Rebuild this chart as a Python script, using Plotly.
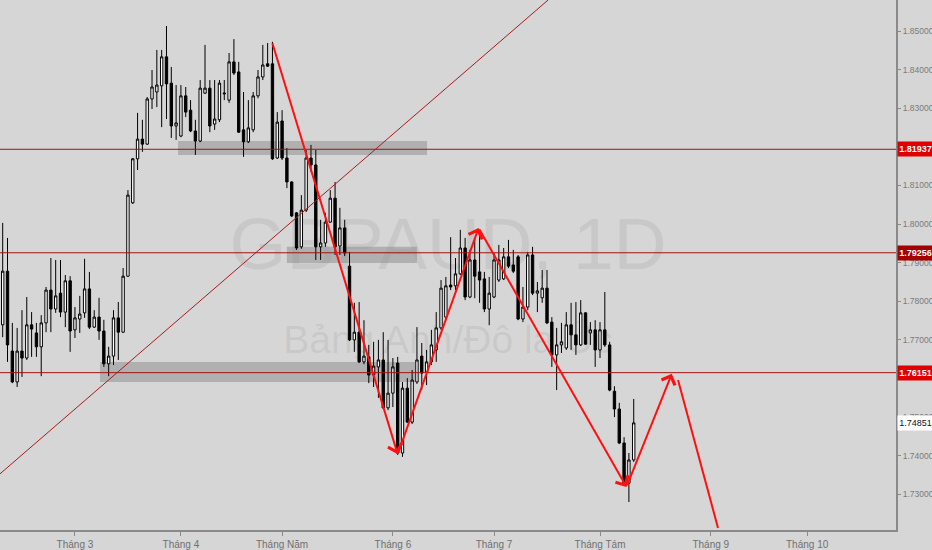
## GBPAUD 1D // candles with drawn levels and zigzag
import plotly.graph_objects as go

# daily candles (bar 0 = mid February)
opens = [
    1.7739, 1.7878, 1.7671, 1.7591, 1.7671, 1.7653, 1.7739, 1.7718, 1.7682, 1.7744,
    1.7829, 1.7780, 1.7821, 1.7772, 1.7853, 1.7726, 1.7754, 1.7770, 1.7832, 1.7733,
    1.7759, 1.7723, 1.7638, 1.7658, 1.7757, 1.7720, 1.7865, 1.8055, 1.8169, 1.8220,
    1.8207, 1.8324, 1.8342, 1.8358, 1.8433, 1.8365, 1.8254, 1.8228, 1.8332, 1.8295,
    1.8241, 1.8215, 1.8339, 1.8352, 1.8259, 1.8270, 1.8337, 1.8321, 1.8420, 1.8394,
    1.8244, 1.8213, 1.8244, 1.8332, 1.8381, 1.8415, 1.8415, 1.8171, 1.8267, 1.8171,
    1.8109, 1.8029, 1.7941, 1.8036, 1.8171, 1.8153, 1.7941, 1.7951, 1.8005, 1.8067,
    1.7943, 1.7990, 1.7891, 1.7700, 1.7720, 1.7643, 1.7656, 1.7609, 1.7630, 1.7648,
    1.7524, 1.7562, 1.7640, 1.7407, 1.7575, 1.7487, 1.7591, 1.7658, 1.7617, 1.7643,
    1.7674, 1.7731, 1.7759, 1.7842, 1.7840, 1.7871, 1.7938, 1.7811, 1.7907, 1.7876,
    1.7858, 1.7780, 1.7811, 1.7855, 1.7858, 1.7915, 1.7894, 1.7915, 1.7754, 1.7785,
    1.7920, 1.7821, 1.7809, 1.7834, 1.7746, 1.7661, 1.7687, 1.7679, 1.7739, 1.7713,
    1.7687, 1.7770, 1.7718, 1.7726, 1.7674, 1.7726, 1.7687, 1.7567, 1.7521, 1.7433,
    1.7329, 1.7389,
]
highs = [
    1.8003, 1.7964, 1.7744, 1.7731, 1.7777, 1.7811, 1.7772, 1.7744, 1.7764, 1.7837,
    1.7912, 1.7907, 1.7907, 1.7868, 1.7865, 1.7785, 1.7814, 1.7910, 1.7876, 1.7777,
    1.7809, 1.7752, 1.7682, 1.7777, 1.7798, 1.7886, 1.8088, 1.8171, 1.8288, 1.8270,
    1.8329, 1.8399, 1.8451, 1.8451, 1.8513, 1.8407, 1.8360, 1.8360, 1.8355, 1.8321,
    1.8270, 1.8373, 1.8464, 1.8373, 1.8373, 1.8373, 1.8373, 1.8443, 1.8479, 1.8420,
    1.8342, 1.8321, 1.8342, 1.8399, 1.8464, 1.8469, 1.8472, 1.8290, 1.8295, 1.8197,
    1.8111, 1.8031, 1.8075, 1.8192, 1.8205, 1.8192, 1.8011, 1.8029, 1.8088, 1.8109,
    1.8042, 1.8011, 1.7928, 1.7796, 1.7798, 1.7751, 1.7687, 1.7695, 1.7700, 1.7720,
    1.7700, 1.7653, 1.7656, 1.7591, 1.7601, 1.7622, 1.7733, 1.7692, 1.7674, 1.7726,
    1.7772, 1.7855, 1.7863, 1.7966, 1.7912, 1.7985, 1.7964, 1.7933, 1.7964, 1.7985,
    1.7876, 1.7863, 1.7925, 1.7946, 1.7938, 1.7959, 1.7933, 1.7920, 1.7837, 1.7928,
    1.7941, 1.7850, 1.7881, 1.7881, 1.7759, 1.7731, 1.7744, 1.7772, 1.7796, 1.7798,
    1.7803, 1.7772, 1.7746, 1.7751, 1.7746, 1.7824, 1.7695, 1.7580, 1.7537, 1.7448,
    1.7407, 1.7547,
]
lows = [
    1.7707, 1.7643, 1.7588, 1.7578, 1.7604, 1.7648, 1.7656, 1.7656, 1.7606, 1.7720,
    1.7720, 1.7770, 1.7759, 1.7733, 1.7669, 1.7705, 1.7718, 1.7757, 1.7728, 1.7731,
    1.7700, 1.7630, 1.7606, 1.7635, 1.7648, 1.7718, 1.7863, 1.8052, 1.8140, 1.8187,
    1.8205, 1.8298, 1.8303, 1.8251, 1.8272, 1.8223, 1.8218, 1.8225, 1.8277, 1.8238,
    1.8179, 1.8212, 1.8337, 1.8238, 1.8244, 1.8264, 1.8321, 1.8314, 1.8386, 1.8236,
    1.8174, 1.8210, 1.8238, 1.8326, 1.8373, 1.8407, 1.8166, 1.8169, 1.8166, 1.8093,
    1.8018, 1.7933, 1.7936, 1.8031, 1.8135, 1.7907, 1.7907, 1.7941, 1.8003, 1.7920,
    1.7920, 1.7917, 1.7697, 1.7669, 1.7640, 1.7637, 1.7588, 1.7578, 1.7550, 1.7521,
    1.7518, 1.7526, 1.7402, 1.7397, 1.7485, 1.7482, 1.7586, 1.7570, 1.7583, 1.7635,
    1.7643, 1.7726, 1.7751, 1.7829, 1.7829, 1.7868, 1.7803, 1.7808, 1.7808, 1.7796,
    1.7772, 1.7738, 1.7808, 1.7850, 1.7855, 1.7886, 1.7873, 1.7751, 1.7746, 1.7777,
    1.7816, 1.7772, 1.7796, 1.7741, 1.7630, 1.7570, 1.7666, 1.7674, 1.7674, 1.7661,
    1.7684, 1.7687, 1.7687, 1.7630, 1.7653, 1.7682, 1.7567, 1.7500, 1.7430, 1.7324,
    1.7280, 1.7384,
]
closes = [
    1.7878, 1.7687, 1.7591, 1.7671, 1.7653, 1.7739, 1.7728, 1.7682, 1.7744, 1.7829,
    1.7780, 1.7814, 1.7772, 1.7853, 1.7723, 1.7757, 1.7767, 1.7832, 1.7733, 1.7759,
    1.7723, 1.7638, 1.7658, 1.7757, 1.7720, 1.7865, 1.8075, 1.8169, 1.8220, 1.8207,
    1.8324, 1.8355, 1.8360, 1.8433, 1.8363, 1.8254, 1.8262, 1.8332, 1.8290, 1.8241,
    1.8215, 1.8352, 1.8352, 1.8254, 1.8272, 1.8365, 1.8339, 1.8420, 1.8391, 1.8238,
    1.8213, 1.8249, 1.8332, 1.8381, 1.8412, 1.8409, 1.8169, 1.8264, 1.8171, 1.8109,
    1.8021, 1.7938, 1.8036, 1.8171, 1.8153, 1.7941, 1.7951, 1.8005, 1.8067, 1.7941,
    1.7990, 1.7925, 1.7700, 1.7720, 1.7643, 1.7658, 1.7609, 1.7632, 1.7648, 1.7524,
    1.7562, 1.7630, 1.7407, 1.7575, 1.7487, 1.7596, 1.7648, 1.7614, 1.7643, 1.7687,
    1.7731, 1.7834, 1.7840, 1.7837, 1.7871, 1.7938, 1.7811, 1.7907, 1.7865, 1.7855,
    1.7780, 1.7821, 1.7907, 1.7907, 1.7915, 1.7891, 1.7878, 1.7754, 1.7785, 1.7920,
    1.7821, 1.7827, 1.7834, 1.7744, 1.7661, 1.7687, 1.7695, 1.7739, 1.7713, 1.7687,
    1.7770, 1.7689, 1.7726, 1.7674, 1.7726, 1.7687, 1.7570, 1.7521, 1.7433, 1.7329,
    1.7389, 1.74851,
]

month_ticks = [15, 37, 58, 81, 102, 124, 147, 167]
month_labels = ["Tháng 3", "Tháng 4", "Tháng Năm", "Tháng 6",
                "Tháng 7", "Tháng Tám", "Tháng 9", "Tháng 10"]
price_ticks = [1.73, 1.74, 1.75, 1.76, 1.77, 1.78, 1.79,
               1.80, 1.81, 1.82, 1.83, 1.84, 1.85]
# these two sit fully under the level labels on the axis
covered_ticks = [1.76, 1.82]

levels = [1.81937, 1.79256, 1.76151]
level_colors = ["#e00000", "#a30000", "#e00000"]
last_price = closes[-1]

# hand drawings (bar index, price)
zigzag_x = [55.9, 82.0, 98.8, 129.5, 138.9]
zigzag_y = [1.8472, 1.7404, 1.7990, 1.7319, 1.7612]
projection_x = [140.2, 148.5]
projection_y = [1.7596, 1.7213]
trend_x = [-0.56, 113.2]
trend_y = [1.7353, 1.8580]
zones = [
    (36.4, 88.1, 1.8179, 1.8215),
    (59.0, 86.0, 1.7899, 1.7941),
    (20.2, 85.6, 1.7591, 1.7643),
]

BG = "#d6d6d6"
AXIS = "#8a8a8a"
FONT = "Liberation Sans Narrow, Arial Narrow, Liberation Sans, Arial, sans-serif"
WATERMARK = "rgba(110,110,110,0.13)"


def _make_plot():
    bars = list(range(len(opens)))

    fig = go.Figure(
        go.Candlestick(
            x=bars,
            open=opens,
            high=highs,
            low=lows,
            close=closes,
            increasing=dict(line=dict(color="#000000", width=1), fillcolor="#ffffff"),
            decreasing=dict(line=dict(color="#000000", width=1), fillcolor="#000000"),
            whiskerwidth=0,
            hoverinfo="skip",
        )
    )

    shapes = []
    # watermark
    shapes.append(dict(
        type="rect", xref="paper", yref="paper", x0=0.25, x1=0.75, y0=0.45, y1=0.656,
        line=dict(width=0), fillcolor="rgba(0,0,0,0)", layer="below",
        label=dict(text="GBPAUD, 1D", textposition="middle center",
                   font=dict(family=FONT, size=73, color=WATERMARK)),
    ))
    shapes.append(dict(
        type="rect", xref="paper", yref="paper", x0=0.25, x1=0.75, y0=0.32, y1=0.415,
        line=dict(width=0), fillcolor="rgba(0,0,0,0)", layer="below",
        label=dict(text="Bảng Anh/Đô la Úc", textposition="middle center",
                   font=dict(family=FONT, size=39, color=WATERMARK)),
    ))
    for x0, x1, y0, y1 in zones:
        shapes.append(dict(
            type="rect", xref="x", yref="y", x0=x0, x1=x1, y0=y0, y1=y1,
            line=dict(width=0), fillcolor="rgba(130,130,130,0.45)", layer="below",
        ))
    for level in levels:
        shapes.append(dict(
            type="line", xref="paper", yref="y", x0=0, x1=1, y0=level, y1=level,
            line=dict(color="#a01212", width=1),
        ))
    shapes.append(dict(
        type="line", xref="x", yref="y",
        x0=trend_x[0], x1=trend_x[1], y0=trend_y[0], y1=trend_y[1],
        line=dict(color="#a51d1d", width=1),
    ))
    shapes.append(dict(
        type="line", xref="x", yref="y",
        x0=projection_x[0], x1=projection_x[1], y0=projection_y[0], y1=projection_y[1],
        line=dict(color="#ff1010", width=2),
    ))

    annotations = []
    for k in range(len(zigzag_x) - 1):
        annotations.append(dict(
            x=zigzag_x[k + 1], y=zigzag_y[k + 1], xref="x", yref="y",
            ax=zigzag_x[k], ay=zigzag_y[k], axref="x", ayref="y",
            text="", showarrow=True, arrowhead=4, arrowsize=1.4,
            arrowwidth=2, arrowcolor="#ff1010", standoff=0,
        ))
    for level, color in zip(levels, level_colors):
        annotations.append(dict(
            x=1, xref="paper", xanchor="left", y=level, yref="y", yanchor="middle",
            text=f"<b>{level:.5f}</b>", showarrow=False, bgcolor=color,
            font=dict(family=FONT, size=9, color="#ffffff"),
            width=35, height=14, borderpad=0, xshift=1,
        ))
    annotations.append(dict(
        x=1, xref="paper", xanchor="left", y=last_price, yref="y", yanchor="middle",
        text=f"{last_price:.5f}", showarrow=False, bgcolor="#ffffff",
        font=dict(family=FONT, size=9, color="#111111"),
        width=35, height=14, borderpad=0, xshift=1,
    ))

    fig.update_layout(
        width=932,
        height=550,
        margin=dict(l=0, r=36, t=0, b=20),
        paper_bgcolor=BG,
        plot_bgcolor=BG,
        showlegend=False,
        shapes=shapes,
        annotations=annotations,
        dragmode=False,
    )
    fig.update_xaxes(
        range=[-0.56, 185.45],
        rangeslider_visible=False,
        tickvals=month_ticks,
        ticktext=month_labels,
        ticks="outside",
        ticklen=4,
        tickcolor=AXIS,
        tickfont=dict(family=FONT, size=10, color="#707070"),
        showgrid=False,
        zeroline=False,
        showline=True,
        linecolor=AXIS,
        linewidth=2,
        automargin=False,
    )
    fig.update_yaxes(
        side="right",
        range=[1.72076, 1.85803],
        tickvals=price_ticks,
        ticktext=["" if v in covered_ticks else f"{v:.5f}" for v in price_ticks],
        ticks="outside",
        ticklen=3,
        tickcolor=AXIS,
        tickfont=dict(family=FONT, size=8.5, color="#7a7a7a"),
        showgrid=False,
        zeroline=False,
        showline=True,
        linecolor=AXIS,
        linewidth=2,
        automargin=False,
    )
    return fig


fig = _make_plot()
# page body has an 8px default margin; drop it so the chart sits flush in the window
fig.write_html(
    "out.html",
    config={"displayModeBar": False},
    post_script="document.body.style.margin='0px';",
)
